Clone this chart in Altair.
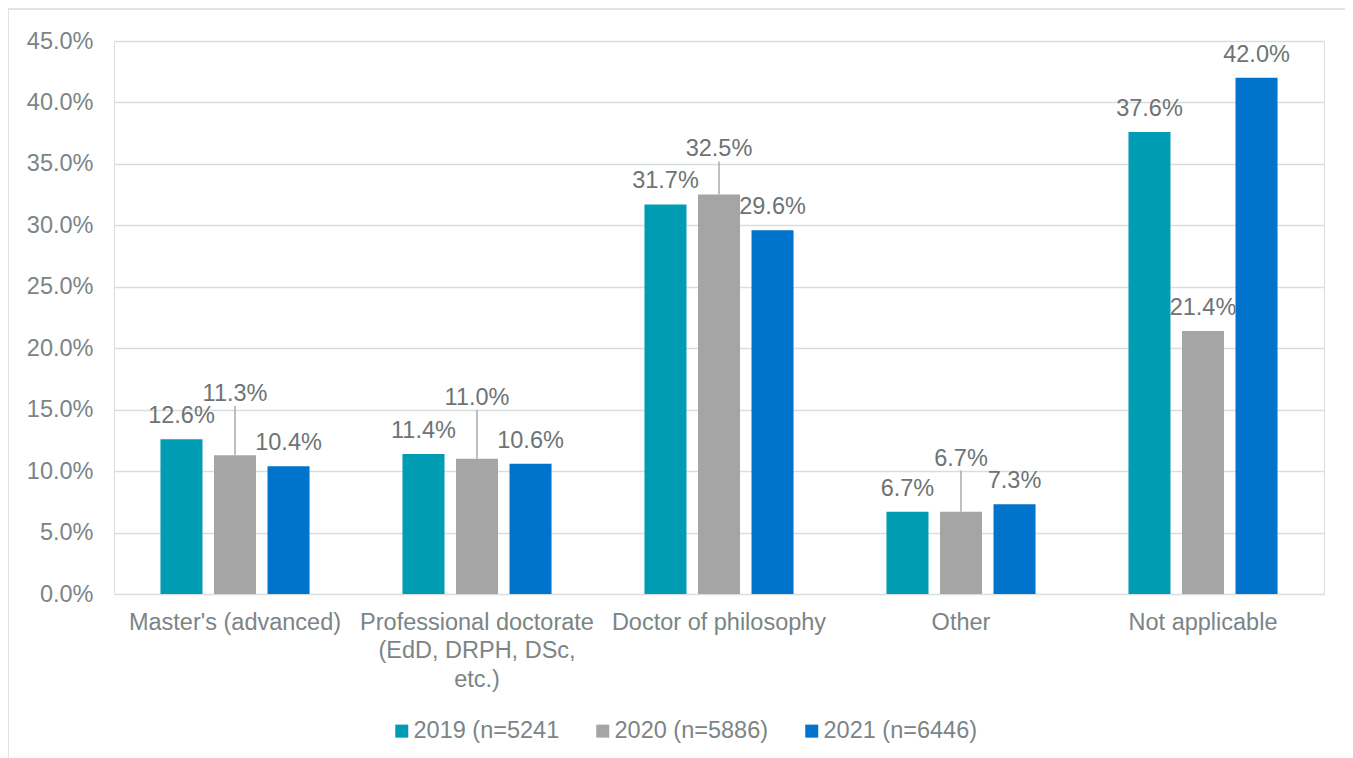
import altair as alt
import pandas as pd

categories = [
    "Master's (advanced)",
    "Professional doctorate (EdD, DRPH, DSc, etc.)",
    "Doctor of philosophy",
    "Other",
    "Not applicable",
]
series = ["2019 (n=5241", "2020 (n=5886)", "2021 (n=6446)"]
values_2019 = [12.6, 11.4, 31.7, 6.7, 37.6]
values_2020 = [11.3, 11.0, 32.5, 6.7, 21.4]
values_2021 = [10.4, 10.6, 29.6, 7.3, 42.0]
y_ticks = [0, 5, 10, 15, 20, 25, 30, 35, 40, 45]

# style: how far (in percentage points) the 2020 labels were dragged up, with leader lines
label_lift_2020 = [3.1, 3.1, 1.8, 2.45, 0.0]

colors = ["#009CB4", "#A5A5A5", "#0073CC"]
FONT = "Liberation Sans"
AXIS_TXT = "#7B8486"
LABEL_TXT = "#6E7374"
FS = 23.5

rows = []
for s_i, (s, vals) in enumerate(zip(series, [values_2019, values_2020, values_2021])):
    for c_i, (c, v) in enumerate(zip(categories, vals)):
        lift = label_lift_2020[c_i] if s_i == 1 else 0.0
        rows.append({"cat": c, "series": s, "value": v, "lift": lift})
df = pd.DataFrame(rows)

x_enc = alt.X(
    "cat:N",
    sort=categories,
    scale=alt.Scale(paddingInner=0.384, paddingOuter=0.192),
    axis=alt.Axis(
        title=None,
        labelAngle=0,
        domain=False,
        ticks=False,
        grid=False,
        labelFont=FONT,
        labelFontSize=FS,
        labelColor=AXIS_TXT,
        labelPadding=16,
        labelLineHeight=28.5,
        labelLimit=400,
        labelExpr="datum.label == 'Professional doctorate (EdD, DRPH, DSc, etc.)' ? ['Professional doctorate', '(EdD, DRPH, DSc,', 'etc.)'] : datum.label",
    ),
)
xo_enc = alt.XOffset(
    "series:N", sort=series, scale=alt.Scale(paddingInner=0.215, paddingOuter=0)
)
y_scale = alt.Scale(domain=[0, 45], nice=False)

base = alt.Chart(df)

bars = base.mark_bar().encode(
    x=x_enc,
    xOffset=xo_enc,
    y=alt.Y(
        "value:Q",
        scale=y_scale,
        axis=alt.Axis(
            title=None,
            values=y_ticks,
            labelExpr="format(datum.value, '.1f') + '%'",
            domain=False,
            ticks=False,
            gridColor="#DADDDD",
            gridWidth=1.3,
            labelFont=FONT,
            labelFontSize=FS,
            labelColor=AXIS_TXT,
            labelPadding=21,
        ),
    ),
    color=alt.Color(
        "series:N",
        sort=series,
        scale=alt.Scale(domain=series, range=colors),
        legend=alt.Legend(
            title=None,
            orient="none",
            direction="horizontal",
            legendX=276,
            legendY=678,
            symbolType="square",
            symbolSize=169,
            symbolStrokeWidth=0,
            labelFont=FONT,
            labelFontSize=FS,
            labelColor=AXIS_TXT,
            labelOffset=0,
            columnPadding=31,
            padding=0,
            labelLimit=300,
        ),
    ),
)

labels = base.transform_calculate(
    label_y="datum.value + datum.lift",
    label_txt="format(datum.value, '.1f') + '%'",
).mark_text(
    baseline="alphabetic", align="center", dy=-16, font=FONT, fontSize=FS, color=LABEL_TXT
).encode(
    x=x_enc,
    xOffset=xo_enc,
    y=alt.Y("label_y:Q", scale=y_scale),
    text="label_txt:N",
)

leaders = base.transform_filter("datum.lift > 0").transform_calculate(
    label_y="datum.value + datum.lift"
).mark_rule(color="#A9ABAB", strokeWidth=1.5, y2Offset=-11).encode(
    x=x_enc,
    xOffset=xo_enc,
    y=alt.Y("value:Q", scale=y_scale),
    y2="label_y:Q",
)

frame_df = pd.DataFrame({"k": [0]})
frame_left = alt.Chart(frame_df).mark_rule(color="#D9D9D9", strokeWidth=1.5, clip=False).encode(
    x=alt.value(-106), y=alt.value(-32), y2=alt.value(760)
)
frame_top = alt.Chart(frame_df).mark_rule(color="#D9D9D9", strokeWidth=1.5, clip=False).encode(
    x=alt.value(-106), x2=alt.value(1232), y=alt.value(-32)
)

chart = (
    alt.layer(frame_left, frame_top, bars, leaders, labels)
    .properties(
        width=1210,
        height=553,
        autosize=alt.AutoSizeParams(type="none"),
        padding={"left": 106, "top": 33, "right": 21, "bottom": 180},
    )
    .configure_view(stroke=None)
    .configure(background="white")
)

chart.save("out.html", embed_options={"renderer": "svg", "actions": False})
